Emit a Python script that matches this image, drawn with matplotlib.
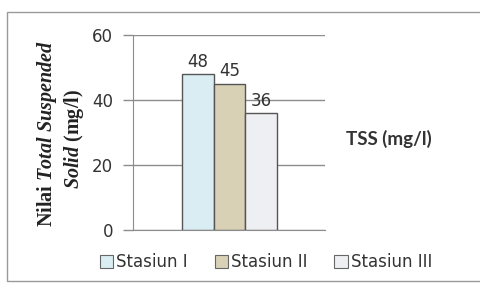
import matplotlib
matplotlib.use("Agg")
import matplotlib.pyplot as plt
from matplotlib.patches import Rectangle, Patch

categories = ["Stasiun I", "Stasiun II", "Stasiun III"]
values = [48, 45, 36]
colors = ["#d9edf3", "#d8d1b6", "#eeeff3"]
yticks = [0, 20, 40, 60]

plt.rcParams['mathtext.fontset'] = 'custom'
plt.rcParams['mathtext.it'] = 'Liberation Serif:italic:bold'
plt.rcParams['mathtext.rm'] = 'Liberation Serif:bold'

fig = plt.figure(figsize=(4.81, 2.83), dpi=100)
W, H = 481, 283
ax = fig.add_axes([133 / W, 1 - 230 / H, (325 - 133) / W, (230 - 35) / H])

pos = list(range(len(categories)))
bars = ax.bar(pos, values, width=1.0, color=colors, edgecolor="#555555", linewidth=1.0, zorder=3)
for p, v in zip(pos, values):
    ax.text(p, v + 1.0, str(v), ha="center", va="bottom", fontsize=12, color="#333333", zorder=4)

ax.set_xlim(-2.05, 4.02)
ax.set_ylim(0, 60)
ax.set_yticks(yticks)
ax.set_xticks([])
ax.grid(axis="y", color="#8c8c8c", linewidth=1.0, zorder=0)
for s in ["top", "right"]:
    ax.spines[s].set_visible(False)
ax.spines["left"].set_color("#8c8c8c")
ax.spines["bottom"].set_color("#8c8c8c")
ax.tick_params(axis="y", length=7.2, width=1, color="#8c8c8c", pad=7, labelsize=12, labelcolor="#333333")

# y label: two lines, mixed styles
fig.text(47 / W, 1 - 134 / H, r"Nilai $Total\ Suspended$", rotation=90, ha="center", va="center",
         fontsize=14.5, family="Liberation Serif", fontweight="bold", color="#222222")
fig.text(74 / W, 1 - 139 / H, r"$Solid$ (mg/l)", rotation=90, ha="center", va="center",
         fontsize=14.5, family="Liberation Serif", fontweight="bold", color="#222222")

fig.text(389 / W, 1 - 139 / H, "TSS (mg/l)", ha="center", va="center", fontsize=13.5,
         family="Lato", fontweight="bold", color="#333333")

handles = [Patch(facecolor=c, edgecolor="#666666", linewidth=0.8) for c in colors]
fig.legend(handles, categories, loc="center", bbox_to_anchor=(266 / W, 1 - 262 / H), ncol=3,
           frameon=False, fontsize=12, handlelength=0.8, handleheight=0.8, handletextpad=0.2,
           columnspacing=1.6, labelcolor="#333333", borderpad=0)

# outer frame
fig.patches.append(Rectangle((7 / W, 1 - 281 / H), (481 - 7) / W + 0.01, (281 - 12) / H,
                             transform=fig.transFigure, fill=False, edgecolor="#9a9a9a",
                             linewidth=1.0))

fig.savefig("out.png", dpi=100)
